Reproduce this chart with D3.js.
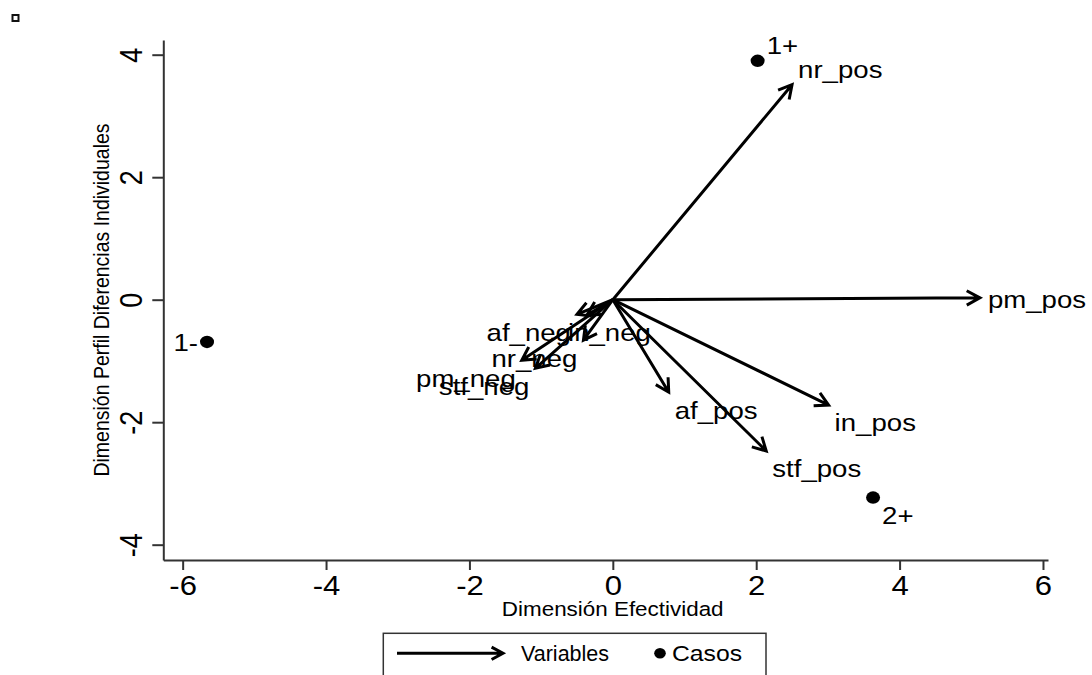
<!DOCTYPE html>
<html>
<head>
<meta charset="utf-8">
<script src="https://cdn.jsdelivr.net/npm/d3@7"></script>
<style>
  body { margin: 0; background: #fff; }
  text { font-family: "Liberation Sans", Arial, Helvetica, sans-serif; fill: #000; }
</style>
</head>
<body>
<svg id="chart" width="1092" height="675"></svg>
<script>
// ticks
const xTicks = [-6, -4, -2, 0, 2, 4, 6];
const yTicks = [-4, -2, 0, 2, 4];

// variables (arrows)
const varNames = ["nr_pos", "pm_pos", "in_pos", "stf_pos", "af_pos", "af_neg", "in_neg", "nr_neg", "pm_neg", "stf_neg"];
const varX = [2.50, 5.12, 3.01, 2.14, 0.78, -0.50, -0.36, -0.41, -1.27, -1.08];
const varY = [3.51, 0.03, -1.72, -2.47, -1.51, -0.24, -0.25, -0.66, -0.99, -1.12];
const varLabelPos = [2, 3, 4, 4, 4, 7, 5, 7, 7, 7];

// cases (points)
const caseNames = ["1+", "1-", "2+"];
const caseX = [2.02, -5.66, 3.63];
const caseY = [3.90, -0.69, -3.23];
const caseLabelPos = [2, 9, 4];

const SX = 1.15; // text is a bit wider than tall in the original

const svg = d3.select("#chart");

const x = d3.scaleLinear().domain([-6.27, 6.07]).range([163.3, 1048]);
const y = d3.scaleLinear().domain([-4.25, 4.24]).range([560, 40]);

function txt(sel, px, py, s, size, anchor, rot, sx = SX) {
  const g = sel.append("g")
    .attr("transform", `translate(${px},${py}) scale(${sx},1)` + (rot ? " rotate(-90)" : ""));
  g.append("text")
    .attr("text-anchor", anchor)
    .attr("dy", "0.35em")
    .style("font-size", size + "px")
    .text(s);
}

function arrowPath(x1, y1, x2, y2, len) {
  const a = Math.atan2(y2 - y1, x2 - x1);
  const w = 0.5;
  const b1 = [x2 - len * Math.cos(a - w), y2 - len * Math.sin(a - w)];
  const b2 = [x2 - len * Math.cos(a + w), y2 - len * Math.sin(a + w)];
  return `M${x1},${y1}L${x2},${y2}M${b1[0]},${b1[1]}L${x2},${y2}L${b2[0]},${b2[1]}`;
}

// label offset from clock position
function labelAt(px, py, pos, gap) {
  switch (pos) {
    case 2: return [px + gap, py - 15, "start"];
    case 3: return [px + gap + 2, py + 2, "start"];
    case 4: return [px + gap, py + 18, "start"];
    case 5: return [px - 19, py + 18, "start"];
    case 7: return [px - gap, py + 18, "end"];
    case 9: return [px - gap, py + 1, "end"];
  }
}

// small square in the corner
svg.append("rect")
  .attr("x", 12.5).attr("y", 15).attr("width", 6).attr("height", 6)
  .attr("fill", "none").attr("stroke", "#111").attr("stroke-width", 2);

// axes
const fmt = d => String(d);
const xAxis = svg.append("g")
  .attr("transform", `translate(0,560)`)
  .call(d3.axisBottom(x).tickValues(xTicks).tickSize(10).tickSizeOuter(0).tickFormat(fmt));
xAxis.selectAll("text")
  .attr("y", 26).attr("dy", "0.35em")
  .attr("transform", `scale(${SX},1)`)
  .style("font-size", "27px");

const yAxis = svg.append("g")
  .attr("transform", `translate(163.3,0)`)
  .call(d3.axisLeft(y).tickValues(yTicks).tickSize(11).tickSizeOuter(0).tickFormat(fmt));
yAxis.selectAll("text")
  .attr("x", 0).attr("y", 0).attr("dy", "0.35em")
  .attr("text-anchor", "middle")
  .attr("transform", `translate(-32,0) scale(${SX},1) rotate(-90)`)
  .style("font-size", "27px");

svg.selectAll(".domain, .tick line")
  .attr("stroke", "#333").attr("stroke-width", 2);

// axis titles
txt(svg, 612.7, 609, "Dimensión Efectividad", 19.5, "middle", false);
txt(svg, 101, 300, "Dimensión Perfil Diferencias Individuales", 19.5, "middle", true);

// arrows
const vars = varNames.map((n, i) => ({ name: n, vx: varX[i], vy: varY[i], pos: varLabelPos[i] }));
svg.append("g").selectAll("path")
  .data(vars)
  .enter().append("path")
  .attr("d", d => arrowPath(x(0), y(0), x(d.vx), y(d.vy), 15))
  .attr("fill", "none")
  .attr("stroke", "#000")
  .attr("stroke-width", 3);

vars.forEach(d => {
  const [lx, ly, anchor] = labelAt(x(d.vx), y(d.vy), d.pos, 6);
  txt(svg, lx, ly, d.name, 24, anchor, false);
});

// cases
const cases = caseNames.map((n, i) => ({ name: n, cx: caseX[i], cy: caseY[i], pos: caseLabelPos[i] }));
svg.append("g").selectAll("ellipse")
  .data(cases)
  .enter().append("ellipse")
  .attr("cx", d => x(d.cx))
  .attr("cy", d => y(d.cy))
  .attr("rx", 7).attr("ry", 6.2)
  .attr("fill", "#000");

cases.forEach(d => {
  const [lx, ly, anchor] = labelAt(x(d.cx), y(d.cy), d.pos, 9);
  txt(svg, lx, ly, d.name, 24, anchor, false);
});

// legend
const lg = svg.append("g");
lg.append("rect")
  .attr("x", 383.3).attr("y", 633.3).attr("width", 382.7).attr("height", 70)
  .attr("fill", "#fff").attr("stroke", "#333").attr("stroke-width", 1.5);
lg.append("path")
  .attr("d", arrowPath(397, 653.3, 503, 653.3, 13))
  .attr("fill", "none").attr("stroke", "#000").attr("stroke-width", 3);
txt(lg, 521, 653.3, "Variables", 21.5, "start", false, 1.0);
lg.append("ellipse")
  .attr("cx", 660).attr("cy", 653.3).attr("rx", 5.8).attr("ry", 5.2)
  .attr("fill", "#000");
txt(lg, 672, 653.3, "Casos", 21.5, "start", false, 1.15);
</script>
</body>
</html>
